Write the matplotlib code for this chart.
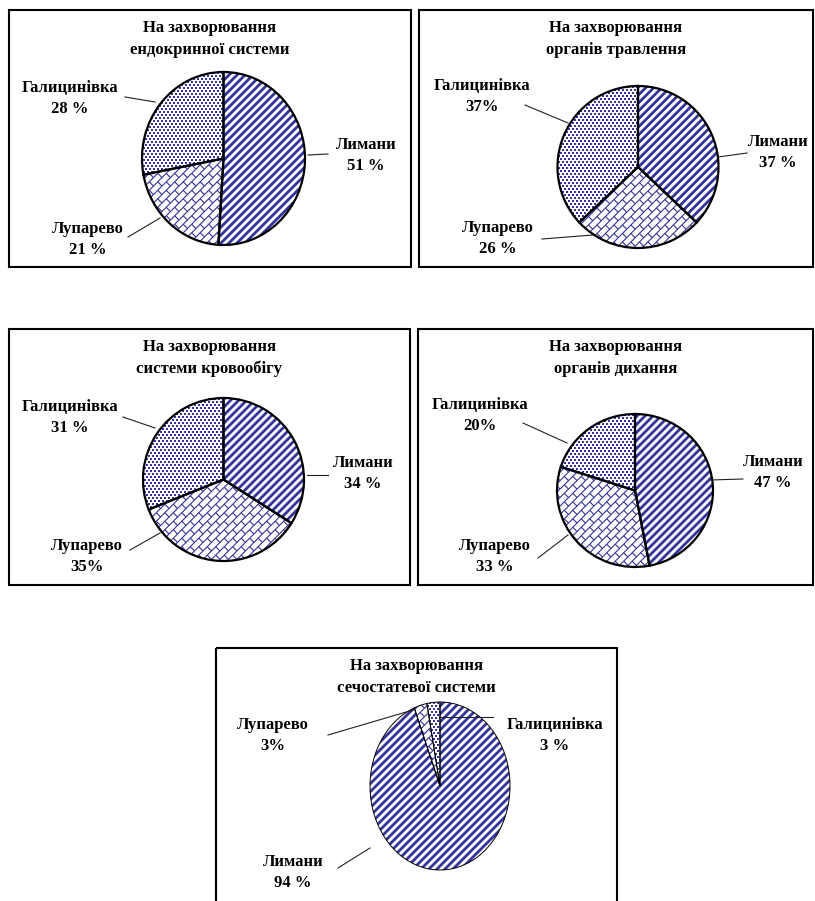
import numpy as np
import matplotlib
matplotlib.use("Agg")
import matplotlib.pyplot as plt
from matplotlib.collections import LineCollection
from matplotlib.patches import Rectangle, Wedge
from matplotlib.transforms import Affine2D

W, H = 815, 901
NAVY = "#33339a"

plt.rcParams["font.family"] = ["Liberation Serif", "DejaVu Serif"]
plt.rcParams["font.weight"] = "bold"

villages = ["Лимани", "Лупарево", "Галицинівка"]
heading = "На захворювання"
titles = ["ендокринної системи", "органів травлення", "системи кровообігу",
          "органів дихання", "сечостатевої системи"]

# share of cases by village, %
endocrine = [51, 21, 28]
digestive = [37, 26, 37]
circulatory = [34, 35, 31]
respiratory = [47, 33, 20]
genitourinary = [94, 3, 3]
shares = [endocrine, digestive, circulatory, respiratory, genitourinary]

# "51 %" vs "37%": whether the percent sign is spaced off
pct_space = [[True, True, True], [True, True, False], [True, False, True],
             [True, True, False], [True, False, True]]

# ---- layout, figure pixels measured from the top-left corner ----
boxes = [(9, 10, 411, 267), (419, 10, 813, 267), (9, 329, 410, 585),
         (418, 329, 813, 585), (216, 648, 617, 910)]
pies = [(223.5, 158.5, 81.5, 86.5), (638, 167, 80.5, 81), (223.5, 479.5, 80.5, 81.5),
        (635, 490.5, 78, 76.5), (440, 786, 70, 84)]
edge_lw = [1.6, 1.6, 1.6, 1.6, 0.7]
title_y = [28, 28, 347, 347, 666]
FS = 12
# label centre x, first line y  (order follows villages)
label_xy = [
    [(366, 145), (88, 229), (70, 88)],
    [(778, 142), (498, 228), (482, 86)],
    [(363, 463), (87, 546), (70, 407)],
    [(773, 462), (495, 546), (480, 405)],
    [(293, 862), (273, 725), (555, 725)],
]
# leader lines: (label end, pie end)
leaders = [
    [((328, 154), (308, 155)), ((128, 237), (160, 218)), ((125, 97), (155, 102))],
    [((747, 153), (718, 157)), ((542, 239), (593, 235)), ((525, 105), (568, 123))],
    [((328, 475), (307, 475)), ((130, 550), (160, 533)), ((123, 417), (155, 428))],
    [((743, 479), (710, 480)), ((538, 558), (568, 535)), ((523, 423), (567, 443))],
    [((338, 868), (370, 848)), ((328, 735), (413, 710)), ((493, 717), (440, 717))],
]

# pixel (top-left origin) -> display
PIX = Affine2D().scale(1, -1).translate(0, H)


def stripes(ax, wedge, bb, step=8.0):
    x0, y0, x1, y1 = bb
    segs = [[(c - y1, y1), (c - y0, y0)]
            for c in np.arange(x0 + y0 - 10, x1 + y1 + 10, step)]
    lc = LineCollection(segs, colors=NAVY, linewidths=2.0, transform=PIX, zorder=2)
    ax.add_collection(lc, autolim=False)
    lc.set_clip_path(wedge)


def bricks(ax, wedge, bb, s=6.0, length=12.0):
    x0, y0, x1, y1 = bb
    c = np.array([(x0 + x1) / 2, (y0 + y1) / 2])
    u = np.array([1.0, -1.0]) / np.sqrt(2)
    v = np.array([1.0, 1.0]) / np.sqrt(2)
    span = max(x1 - x0, y1 - y0)
    n = int(span / s) + 2
    segs = []
    for k in range(-n, n + 1):
        base = c + k * s * v
        segs.append([base - span * u, base + span * u])
        off = (k % 2) * length / 2
        for t in np.arange(-span + off, span, length):
            p = base + t * u
            segs.append([p, p + s * v])
    lc = LineCollection(segs, colors=NAVY, linewidths=0.8, transform=PIX, zorder=2)
    ax.add_collection(lc, autolim=False)
    lc.set_clip_path(wedge)


def dots(ax, wedge, bb, col=4, row=3):
    # staggered 2x2 px dots snapped to the pixel grid
    x0, y0, x1, y1 = (int(v) for v in bb)
    xs, ys = [], []
    for i, py in enumerate(range(y0, y1 + 1, row)):
        start = x0 + (i % 2) * (col // 2)
        row_x = list(range(start, x1 + 1, col))
        xs.extend(row_x)
        ys.extend([py] * len(row_x))
    sc = ax.scatter(xs, ys, s=2.07, marker="s", c=NAVY, linewidths=0,
                    transform=PIX, zorder=2)
    sc.set_clip_path(wedge)


fills = [stripes, bricks, dots]

fig = plt.figure(figsize=(W / 100, H / 100), dpi=100)

m = 1.04
for vals, (cx, cy, rx, ry), lw in zip(shares, pies, edge_lw):
    ax = fig.add_axes([(cx - m * rx) / W, 1 - (cy + m * ry) / H,
                       2 * m * rx / W, 2 * m * ry / H])
    wedges, _ = ax.pie(vals, startangle=90, counterclock=False, radius=1,
                       wedgeprops=dict(facecolor="white", edgecolor="none"))
    ax.set_aspect("auto")
    ax.set_xlim(-m, m)
    ax.set_ylim(-m, m)
    ax.axis("off")
    bb = (cx - rx - 2, cy - ry - 2, cx + rx + 2, cy + ry + 2)
    for w, fill in zip(wedges, fills):
        fill(ax, w, bb)
    for w in wedges:
        ax.add_patch(Wedge(w.center, w.r, w.theta1, w.theta2, fill=False,
                           edgecolor="black", linewidth=lw, zorder=3))

# frames, titles, labels and leader lines on top
top = fig.add_axes([0, 0, 1, 1])
top.set_xlim(0, W)
top.set_ylim(H, 0)
top.axis("off")

for i, (l, t, r, b) in enumerate(boxes):
    top.add_patch(Rectangle((l, t), r - l, b - t, fill=False,
                            edgecolor="black", linewidth=1.5))
    mid = (l + r) / 2
    top.text(mid, title_y[i], heading, ha="center", va="center", fontsize=FS)
    top.text(mid, title_y[i] + 22, titles[i], ha="center", va="center", fontsize=FS)
    for j, name in enumerate(villages):
        x, y = label_xy[i][j]
        pct = f"{shares[i][j]}{' ' if pct_space[i][j] else ''}%"
        top.text(x, y, name, ha="center", va="center", fontsize=FS)
        top.text(x, y + 21, pct, ha="center", va="center", fontsize=FS)
        (ax_, ay_), (bx_, by_) = leaders[i][j]
        top.plot([ax_, bx_], [ay_, by_], color="#222222", linewidth=0.8)

fig.savefig("out.png", dpi=100)
